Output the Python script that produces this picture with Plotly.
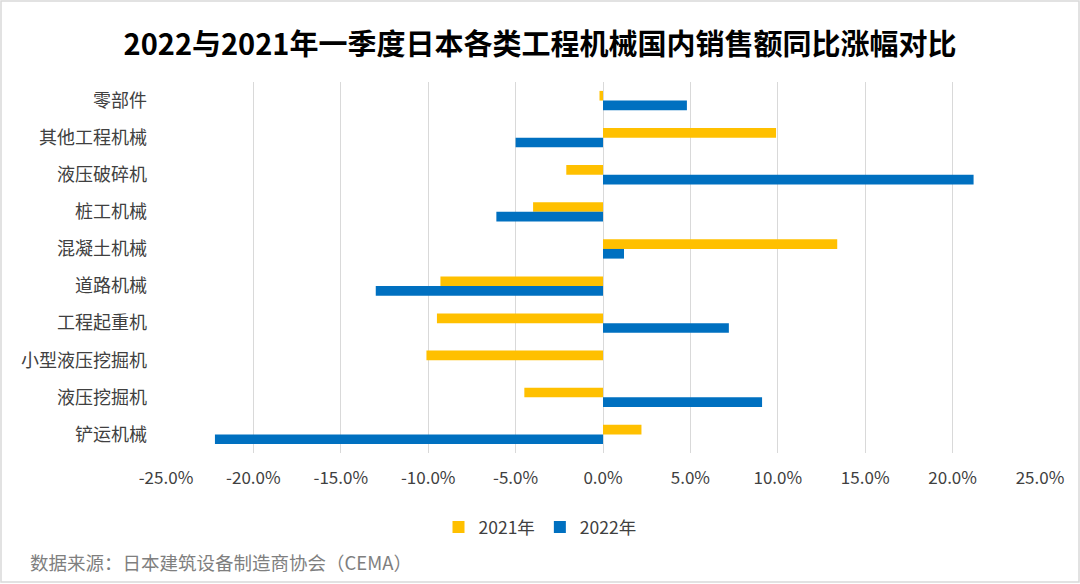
import plotly.graph_objects as go

categories = ["零部件", "其他工程机械", "液压破碎机", "桩工机械", "混凝土机械",
              "道路机械", "工程起重机", "小型液压挖掘机", "液压挖掘机", "铲运机械"]
values_2021 = [-0.002, 0.099, -0.021, -0.040, 0.134, -0.093, -0.095, -0.101, -0.045, 0.022]
values_2022 = [0.048, -0.050, 0.212, -0.061, 0.012, -0.130, 0.072, 0.0, 0.091, -0.222]
series_names = ["2021年", "2022年"]
tick_vals = [-0.25, -0.20, -0.15, -0.10, -0.05, 0.0, 0.05, 0.10, 0.15, 0.20, 0.25]
tick_text = ["-25.0%", "-20.0%", "-15.0%", "-10.0%", "-5.0%", "0.0%",
             "5.0%", "10.0%", "15.0%", "20.0%", "25.0%"]

FONT = "Noto Sans CJK SC"
W, H = 1080, 584
L, R, T, B = 166, 40, 82, 131
PW, PH = W - L - R, H - T - B


def px_x(px):
    return (px - L) / PW


def px_y(py):
    return (H - B - py) / PH


fig = go.Figure()
fig.add_trace(go.Bar(y=categories, x=values_2021, name=series_names[0], orientation="h",
                     marker=dict(color="#FFC000", line=dict(width=0))))
fig.add_trace(go.Bar(y=categories, x=values_2022, name=series_names[1], orientation="h",
                     marker=dict(color="#0070C0", line=dict(width=0))))

fig.update_layout(
    width=W, height=H,
    margin=dict(l=L, r=R, t=T, b=B, pad=0, autoexpand=False),
    paper_bgcolor="white", plot_bgcolor="white",
    barmode="group", bargap=0.48, bargroupgap=0,
    font=dict(family=FONT, size=18, color="#404040"),
    title=dict(text="<b>2022与2021年一季度日本各类工程机械国内销售额同比涨幅对比</b>",
               x=0.5, xref="container", xanchor="center",
               y=1 - 45 / H, yref="container", yanchor="middle",
               font=dict(family=FONT, size=29, color="#000000")),
    xaxis=dict(range=[-0.25, 0.25], tickvals=tick_vals, ticktext=tick_text,
               showgrid=True, gridcolor="#D9D9D9", gridwidth=1,
               zeroline=True, zerolinecolor="#D9D9D9", zerolinewidth=1,
               showline=False, ticks="", ticklabelstandoff=13,
               tickfont=dict(size=17, color="#404040")),
    yaxis=dict(autorange="reversed", showgrid=False, showline=False, ticks="",
               ticklabelstandoff=18, tickfont=dict(size=18, color="#404040")),
    legend=dict(orientation="h", x=0.5, xref="container", xanchor="center",
                y=1 - 527 / H, yref="container", yanchor="middle",
                font=dict(size=17.5, color="#404040"), traceorder="normal"),
    showlegend=True,
    annotations=[dict(text="数据来源：日本建筑设备制造商协会（CEMA）",
                      xref="paper", yref="paper",
                      x=px_x(28), y=px_y(562),
                      xanchor="left", yanchor="middle", showarrow=False,
                      font=dict(family=FONT, size=18.5, color="#7F7F7F"))],
    shapes=[dict(type="rect", xref="paper", yref="paper",
                 x0=px_x(1), x1=px_x(1079), y0=px_y(1), y1=px_y(582),
                 line=dict(color="#D9D9D9", width=1.5), fillcolor="rgba(0,0,0,0)",
                 layer="below")],
)

fig.write_html("out.html", config={"displayModeBar": False},
               post_script="document.body.style.margin='0';document.body.style.padding='0';")
